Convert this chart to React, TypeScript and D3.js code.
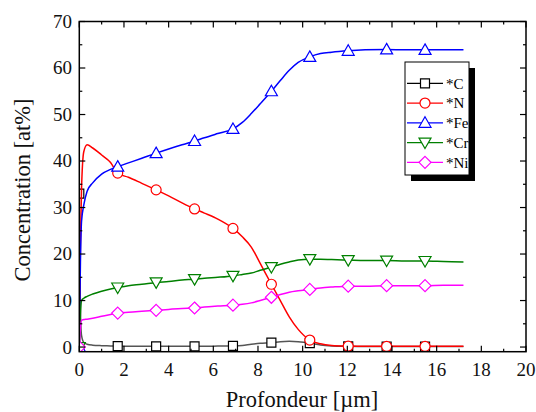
import React from "react";
import * as d3 from "d3";

const depth = [0, 0.05, 0.1, 0.2, 0.35, 0.6, 1.0, 1.4, 1.72, 2.2, 2.8, 3.44, 4.0, 4.6, 5.16, 5.6, 6.2, 6.88, 7.3, 7.7, 8.1, 8.6, 9.0, 9.4, 9.8, 10.32, 10.8, 11.3, 12.04, 12.8, 13.76, 14.6, 15.48, 16.3, 17.2];

const carbon = [33, 8, 2.5, 1.0, 0.6, 0.4, 0.3, 0.25, 0.2, 0.15, 0.15, 0.15, 0.15, 0.15, 0.15, 0.15, 0.2, 0.25, 0.35, 0.6, 0.8, 0.95, 1.15, 1.25, 1.15, 0.85, 0.45, 0.25, 0.15, 0.1, 0.1, 0.1, 0.1, 0.1, 0.1];
const nitrogen = [0, 22, 34, 42, 43.5, 42.8, 41.3, 39.7, 37.4, 36.5, 35.2, 33.8, 32.5, 31, 29.7, 28.8, 27.5, 25.5, 23.7, 21.5, 18, 13.5, 10, 6.5, 3.8, 1.5, 0.7, 0.35, 0.2, 0.15, 0.15, 0.15, 0.15, 0.15, 0.15];
const iron = [0, 18, 27, 30.5, 33.5, 35.3, 37.2, 38.2, 38.8, 39.6, 40.6, 41.7, 42.6, 43.5, 44.3, 45, 45.9, 46.9, 48.3, 50.2, 52.3, 55, 57.3, 59.5, 61.2, 62.4, 63.1, 63.4, 63.7, 63.9, 64.0, 63.9, 63.9, 63.9, 63.9];
const chromium = [0, 7, 10, 10.5, 10.9, 11.4, 12.0, 12.5, 12.8, 13.2, 13.5, 13.9, 14.1, 14.4, 14.6, 14.8, 15.0, 15.3, 15.6, 15.9, 16.5, 17.2, 17.8, 18.3, 18.7, 18.9, 18.9, 18.8, 18.7, 18.6, 18.6, 18.5, 18.5, 18.4, 18.3];
const nickel = [0, 4, 5.8, 5.9, 6.0, 6.2, 6.6, 7.0, 7.3, 7.5, 7.7, 7.9, 8.1, 8.3, 8.4, 8.6, 8.8, 9.0, 9.2, 9.5, 10.0, 10.7, 11.3, 11.8, 12.1, 12.4, 12.7, 12.9, 13.1, 13.1, 13.2, 13.2, 13.2, 13.3, 13.3];

const markerDepths = [0, 1.72, 3.44, 5.16, 6.88, 8.6, 10.32, 12.04, 13.76, 15.48];
const xTicks = [0, 2, 4, 6, 8, 10, 12, 14, 16, 18, 20];
const yTicks = [0, 10, 20, 30, 40, 50, 60, 70];
const seriesNames = ["*C", "*N", "*Fe", "*Cr", "*Ni"];
const seriesColors = ["#000000", "#ff0000", "#0000ff", "#008000", "#ff00ff"];
const seriesLineColors = ["#555555", "#ff0000", "#0000ff", "#008000", "#ff00ff"];
const seriesShapes = ["square", "circle", "triUp", "triDown", "diamond"];
const seriesValues = [carbon, nitrogen, iron, chromium, nickel];

const W = 536, H = 412;
const L = 79.3, R = 526, T = 21.5, B = 351.7;
const FONT = "'Liberation Serif', 'Times New Roman', serif";

function markerPath(shape: string): string {
  switch (shape) {
    case "square": return "M-4.5,-4.5H4.5V4.5H-4.5Z";
    case "circle": return "M5,0A5,5 0 1 1 -5,0A5,5 0 1 1 5,0Z";
    case "triUp": return "M0,-6L6,4.5L-6,4.5Z";
    case "triDown": return "M0,6L6,-4.5L-6,-4.5Z";
    default: return "M0,-6L6,0L0,6L-6,0Z";
  }
}

export default function App() {
  const x = d3.scaleLinear().domain([0, 20]).range([L, R]);
  const y = d3.scaleLinear().domain([-1, 70]).range([B, T]);
  const line = d3.line<[number, number]>().x(d => x(d[0])).y(d => y(d[1])).curve(d3.curveMonotoneX);

  const xMinor = d3.range(0, 21, 1);
  const yMinor = d3.range(0, 71, 5);

  const legX = 405, legY = 62, legW = 64, legH = 113;
  const legRow0 = 83.3, legStep = 19.75;

  return (
    <svg width={W} height={H} style={{ position: "absolute", left: 0, top: 0, background: "#fff" }} fontFamily={FONT}>
      <defs>
        <clipPath id="plot">
          <rect x={L} y={T} width={R - L} height={B - T} />
        </clipPath>
      </defs>
      <rect x={0} y={0} width={W} height={H} fill="#fff" />
      <g clipPath="url(#plot)">
        {seriesValues.map((vals, i) => {
          const pts: [number, number][] = depth.map((d, k) => [d, vals[k]]);
          return (
            <g key={i}>
              <path d={line(pts) || ""} fill="none" stroke={seriesLineColors[i]} strokeWidth={1.5} />
              {pts.filter(p => markerDepths.includes(p[0])).map((p, k) => (
                <path key={k} d={markerPath(seriesShapes[i])} transform={`translate(${x(p[0])},${y(p[1])})`} fill="#fff" stroke={seriesColors[i]} strokeWidth={1.2} />
              ))}
            </g>
          );
        })}
      </g>
      {/* frame */}
      <rect x={L} y={T} width={R - L} height={B - T} fill="none" stroke="#000" strokeWidth={1.5} />
      {xMinor.map(v => {
        const len = v % 2 === 0 ? 6 : 3;
        return (
          <g key={"xt" + v}>
            <line x1={x(v)} x2={x(v)} y1={B} y2={B - len} stroke="#000" strokeWidth={1.2} />
            <line x1={x(v)} x2={x(v)} y1={T} y2={T + len} stroke="#000" strokeWidth={1.2} />
          </g>
        );
      })}
      {yMinor.map(v => {
        const len = v % 10 === 0 ? 6 : 3;
        return (
          <g key={"yt" + v}>
            <line x1={L} x2={L + len} y1={y(v)} y2={y(v)} stroke="#000" strokeWidth={1.2} />
            <line x1={R} x2={R - len} y1={y(v)} y2={y(v)} stroke="#000" strokeWidth={1.2} />
          </g>
        );
      })}
      {xTicks.map(v => (
        <text key={"xl" + v} x={x(v)} y={376} textAnchor="middle" fontSize={19} fill="#111">{v}</text>
      ))}
      {yTicks.map(v => (
        <text key={"yl" + v} x={72} y={y(v)} dy="0.34em" textAnchor="end" fontSize={19} fill="#111">{v}</text>
      ))}
      <text x={302} y={407} textAnchor="middle" fontSize={22.5} fill="#111">Profondeur [µm]</text>
      <text transform="translate(30,190) rotate(-90)" textAnchor="middle" fontSize={22.5} fill="#111">Concentration [at%]</text>

      {/* legend */}
      <rect x={legX + 6} y={legY + 6} width={legW} height={legH} fill="#000" />
      <rect x={legX} y={legY} width={legW} height={legH} fill="#fff" stroke="#000" strokeWidth={1} />
      {seriesNames.map((name, i) => {
        const ly = legRow0 + i * legStep;
        return (
          <g key={"lg" + i}>
            <line x1={407} x2={443} y1={ly} y2={ly} stroke={seriesColors[i]} strokeWidth={1.2} />
            <path d={markerPath(seriesShapes[i])} transform={`translate(425,${ly})`} fill="#fff" stroke={seriesColors[i]} strokeWidth={1.2} />
            <text x={446} y={ly} dy="0.36em" fontSize={15} fill="#000">{name}</text>
          </g>
        );
      })}
    </svg>
  );
}
